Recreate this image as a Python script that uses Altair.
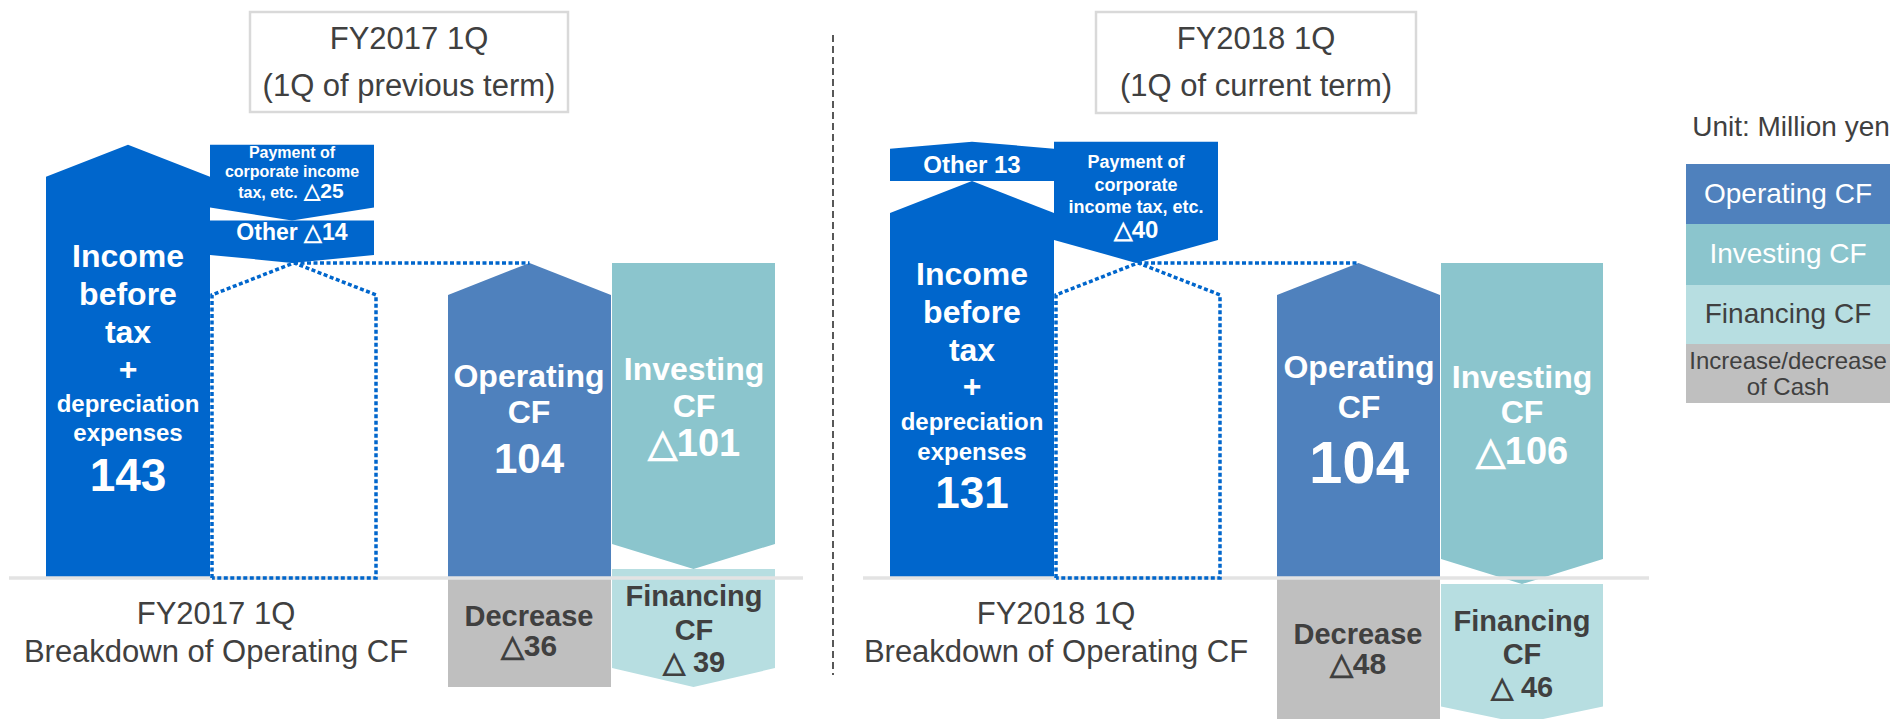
import altair as alt
import pandas as pd

# ---------------- data (million yen) ----------------
periods = ["FY2017 1Q", "FY2018 1Q"]
period_notes = ["(1Q of previous term)", "(1Q of current term)"]
income_before_tax_dep = [143, 131]
other_items = [-14, 13]
corporate_tax_paid = [-25, -40]
operating_cf = [104, 104]
investing_cf = [-101, -106]
financing_cf = [-39, -46]
cash_change = [-36, -48]
legend_labels = ["Operating CF", "Investing CF", "Financing CF"]
unit_label = "Unit: Million yen"

# ---------------- styles / layout ----------------
BLUE = "#0066CC"
OPC = "#4F81BD"
INVC = "#8BC5CD"
FINC = "#B7DEE1"
GRAYC = "#BFBFBF"
DARK = "#404040"
WHITE = "#FFFFFF"
FONT = "Liberation Sans"

W, H = 1884, 711
ORIGIN = 8
BASE = 578
K = 3.03  # px per million yen
YMAX = (BASE - ORIGIN) / K
YMIN = YMAX - H / K
XDOM = [ORIGIN, ORIGIN + W]

panels = [
    dict(inc=(46, 210), pay=(210, 374), oth=(210, 374), dot=(212, 376),
         op=(448, 611), inv=(612, 775), dep_pay=13, dep_oth=8, dep_fin=19,
         base=(9, 803), title=(250, 568), label_x=216),
    dict(inc=(890, 1054), pay=(1054, 1218), oth=(890, 1054), dot=(1056, 1220),
         op=(1277, 1440), inv=(1441, 1603), dep_pay=23, dep_oth=7, dep_fin=17,
         base=(863, 1649), title=(1096, 1416), label_x=1056),
]

rows = []


def up(sid, xr, b, t, dpx, fill):
    x0, x1 = xr
    d = dpx / K
    for x, y in [(x0, t - d), ((x0 + x1) / 2, t), (x1, t - d)]:
        rows.append(dict(id=sid, x=x, y=y, y2=b, fill=fill))


def down(sid, xr, top, tip, dpx, fill):
    x0, x1 = xr
    d = dpx / K
    for x, y2 in [(x0, tip + d), ((x0 + x1) / 2, tip), (x1, tip + d)]:
        rows.append(dict(id=sid, x=x, y=top, y2=y2, fill=fill))


def rect(sid, xr, top, bot, fill):
    for x in xr:
        rows.append(dict(id=sid, x=x, y=top, y2=bot, fill=fill))


dots = []
base_rows = []
for i, p in enumerate(panels):
    inc = income_before_tax_dep[i]
    oth = other_items[i]
    pay = corporate_tax_paid[i]
    op = operating_cf[i]
    inv = investing_cf[i]
    fin = financing_cf[i]
    cash = cash_change[i]
    up(f"inc{i}", p["inc"], 0, inc, 32, BLUE)
    if oth >= 0:
        up(f"oth{i}", p["oth"], inc, inc + oth, p["dep_oth"], BLUE)
        down(f"pay{i}", p["pay"], inc + oth, inc + oth + pay, p["dep_pay"], BLUE)
    else:
        down(f"pay{i}", p["pay"], inc, inc + pay, p["dep_pay"], BLUE)
        down(f"oth{i}", p["oth"], inc + pay, inc + pay + oth, p["dep_oth"], BLUE)
    up(f"op{i}", p["op"], 0, op, 32, OPC)
    down(f"inv{i}", p["inv"], op, op + inv, 25, INVC)
    rect(f"cash{i}", p["op"], 0, cash, GRAYC)
    down(f"fin{i}", p["inv"], op + inv, op + inv + fin, p["dep_fin"], FINC)

    # dotted outline (operating CF equivalent) and connector
    x0, x1 = p["dot"]
    xm = (x0 + x1) / 2
    d = 32 / K
    pts = [(x0, 0), (x0, op - d), (xm, op), (x1, op - d), (x1, 0), (x0, 0)]
    for o, (x, y) in enumerate(pts):
        dots.append(dict(id=f"d{i}", o=o, x=x, y=y))
    dots.append(dict(id=f"c{i}", o=0, x=xm, y=op))
    dots.append(dict(id=f"c{i}", o=1, x=(p["op"][0] + p["op"][1]) / 2, y=op))
    base_rows.append(dict(x=p["base"][0], x2=p["base"][1], y=0))

shapes = pd.DataFrame(rows)
dots_df = pd.DataFrame(dots)
base_df = pd.DataFrame(base_rows)

xs = alt.Scale(domain=XDOM, nice=False, zero=False)
ys = alt.Scale(domain=[YMIN, YMAX], nice=False, zero=False)
ps = alt.Scale(domain=[ORIGIN, ORIGIN + H], nice=False, zero=False, reverse=True)

area = alt.Chart(shapes).mark_area(clip=True, interpolate="linear").encode(
    x=alt.X("x:Q", scale=xs, axis=None),
    y=alt.Y("y:Q", scale=ys, axis=None, stack=None),
    y2="y2:Q",
    color=alt.Color("fill:N", scale=None),
    detail="id:N",
)

baseline = alt.Chart(base_df).mark_rule(color="#E3E3E3", strokeWidth=3.5).encode(
    x=alt.X("x:Q", scale=xs, axis=None),
    x2="x2:Q",
    y=alt.Y("y:Q", scale=ys, axis=None),
)

dotted = alt.Chart(dots_df).mark_line(
    color=BLUE, strokeWidth=3.5, strokeDash=[4, 2.5], strokeCap="butt"
).encode(
    x=alt.X("x:Q", scale=xs, axis=None),
    y=alt.Y("y:Q", scale=ys, axis=None),
    detail="id:N",
    order="o:Q",
)

# decorations in page-pixel coordinates
boxes = pd.DataFrame([
    dict(x=panels[0]["title"][0], x2=panels[0]["title"][1], y=12, y2=112),
    dict(x=panels[1]["title"][0], x2=panels[1]["title"][1], y=12, y2=113),
])
title_boxes = alt.Chart(boxes).mark_rect(fill="white", stroke="#D9D9D9", strokeWidth=2.5).encode(
    x=alt.X("x:Q", scale=xs, axis=None), x2="x2:Q",
    y=alt.Y("y:Q", scale=ps, axis=None), y2="y2:Q",
)

sep = alt.Chart(pd.DataFrame([dict(x=833, y=35, y2=675)])).mark_rule(
    color="#222222", strokeWidth=1.5, strokeDash=[7, 4]
).encode(
    x=alt.X("x:Q", scale=xs, axis=None),
    y=alt.Y("y:Q", scale=ps, axis=None), y2="y2:Q",
)

leg_fill = [OPC, INVC, FINC, GRAYC]
leg_y = [164, 224, 285, 344, 403]
leg_df = pd.DataFrame([
    dict(x=1686, x2=1890, y=leg_y[j], y2=leg_y[j + 1], fill=leg_fill[j]) for j in range(4)
])
legend_rects = alt.Chart(leg_df).mark_rect().encode(
    x=alt.X("x:Q", scale=xs, axis=None), x2="x2:Q",
    y=alt.Y("y:Q", scale=ps, axis=None), y2="y2:Q",
    color=alt.Color("fill:N", scale=None),
)


def fmt(v, space=False):
    if v < 0:
        return ("△ " if space else "△") + str(abs(v))
    return str(v)


reg = []
bold = []
for i, p in enumerate(panels):
    tx = (p["title"][0] + p["title"][1]) / 2
    reg += [(tx, 40, periods[i], 31, DARK), (tx, 87, period_notes[i], 31, DARK),
            (p["label_x"], 615, periods[i], 31, DARK),
            (p["label_x"], 653, "Breakdown of Operating CF", 31, DARK)]

reg += [(1791, 128, unit_label, 28, DARK),
        (1788, 195, legend_labels[0], 28, WHITE),
        (1788, 255, legend_labels[1], 28, WHITE),
        (1788, 315, legend_labels[2], 28, DARK),
        (1788, 362, "Increase/decrease", 24, DARK),
        (1788, 388, "of Cash", 24, DARK)]

# left panel in-shape labels
bold += [
    (128, 257, "Income", 32, WHITE), (128, 295, "before", 32, WHITE), (128, 333, "tax", 32, WHITE),
    (128, 370, "+", 32, WHITE), (128, 405, "depreciation", 24, WHITE), (128, 434, "expenses", 24, WHITE),
    (128, 477, fmt(income_before_tax_dep[0]), 46, WHITE),
    (292, 153, "Payment of", 16, WHITE), (292, 172, "corporate income", 16, WHITE),
    (268, 193, "tax, etc.", 16, WHITE), (324, 192, fmt(corporate_tax_paid[0]), 21, WHITE),
    (292, 233, "Other " + fmt(other_items[0]), 23, WHITE),
    (529, 377, "Operating", 32, WHITE), (529, 413, "CF", 32, WHITE),
    (529, 460, fmt(operating_cf[0]), 42, WHITE),
    (694, 370, "Investing", 32, WHITE), (694, 407, "CF", 32, WHITE),
    (694, 445, fmt(investing_cf[0]), 38, WHITE),
    (529, 617, "Decrease", 29, DARK), (529, 647, fmt(cash_change[0]), 30, DARK),
    (694, 597, "Financing", 29, DARK), (694, 631, "CF", 29, DARK),
    (694, 663, fmt(financing_cf[0], True), 29, DARK),
]
# right panel in-shape labels
bold += [
    (972, 166, "Other " + fmt(other_items[1]), 24, WHITE),
    (972, 275, "Income", 32, WHITE), (972, 313, "before", 32, WHITE), (972, 351, "tax", 32, WHITE),
    (972, 387, "+", 32, WHITE), (972, 423, "depreciation", 24, WHITE), (972, 453, "expenses", 24, WHITE),
    (972, 495, fmt(income_before_tax_dep[1]), 44, WHITE),
    (1136, 163, "Payment of", 18, WHITE), (1136, 186, "corporate", 18, WHITE),
    (1136, 208, "income tax, etc.", 18, WHITE), (1136, 231, fmt(corporate_tax_paid[1]), 24, WHITE),
    (1359, 368, "Operating", 32, WHITE), (1359, 408, "CF", 32, WHITE),
    (1359, 465, fmt(operating_cf[1]), 60, WHITE),
    (1522, 378, "Investing", 32, WHITE), (1522, 413, "CF", 32, WHITE),
    (1522, 453, fmt(investing_cf[1]), 38, WHITE),
    (1358, 635, "Decrease", 29, DARK), (1358, 665, fmt(cash_change[1]), 30, DARK),
    (1522, 622, "Financing", 29, DARK), (1522, 655, "CF", 29, DARK),
    (1522, 688, fmt(financing_cf[1], True), 29, DARK),
]

cols = ["x", "y", "t", "fs", "col"]
reg_df = pd.DataFrame(reg, columns=cols)
bold_df = pd.DataFrame(bold, columns=cols)


def text_layer(df, weight):
    return alt.Chart(df).mark_text(
        font=FONT, fontWeight=weight, align="center", baseline="middle"
    ).encode(
        x=alt.X("x:Q", scale=xs, axis=None),
        y=alt.Y("y:Q", scale=ps, axis=None),
        text="t:N",
        size=alt.Size("fs:Q", scale=None),
        color=alt.Color("col:N", scale=None),
    )


chart = alt.layer(
    title_boxes, sep, area, baseline, dotted, legend_rects,
    text_layer(reg_df, "normal"), text_layer(bold_df, "bold"),
).resolve_scale(y="independent").properties(
    width=W, height=H, padding=0,
    autosize=alt.AutoSizeParams(type="none"),
).configure_view(stroke=None)

chart.save("out.html", embed_options={"renderer": "svg", "actions": False})
